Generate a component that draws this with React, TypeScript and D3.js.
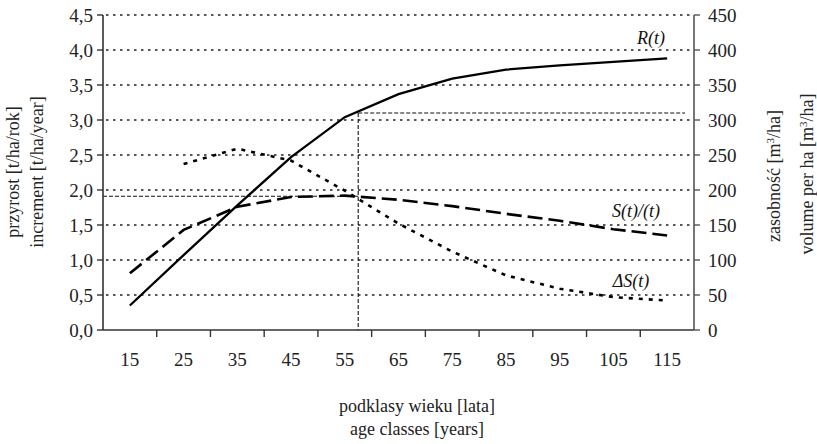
import React from 'react';
import * as d3 from 'd3';

// age classes (centre of each class) [years]
const ageClasses = [15, 25, 35, 45, 55, 65, 75, 85, 95, 105, 115];
// R(t) – volume per ha [m3/ha], right axis
const volumeR = [35, 107, 178, 247, 304, 337, 359, 372, 378, 383, 388];
// S(t)/(t) – mean increment [t/ha/year], left axis
const meanIncrement = [0.81, 1.43, 1.76, 1.9, 1.92, 1.86, 1.77, 1.66, 1.56, 1.44, 1.35];
// ΔS(t) – current increment [t/ha/year], left axis (no value for the first class)
const currentIncrement = [null, 2.37, 2.59, 2.42, 1.99, 1.52, 1.12, 0.78, 0.59, 0.47, 0.42];

const leftTicks = [0, 0.5, 1, 1.5, 2, 2.5, 3, 3.5, 4, 4.5];
const rightTicks = [0, 50, 100, 150, 200, 250, 300, 350, 400, 450];
const classBounds = [20, 30, 40, 50, 60, 70, 80, 90, 100, 110];

// culmination of mean increment and the matching volume
const optimumAge = 57.5;
const optimumIncrement = 1.91;
const optimumVolume = 310;

const W = 817;
const H = 444;
const margin = { top: 15, right: 123, bottom: 114, left: 103 };
const FONT = "'Liberation Serif', 'DejaVu Serif', serif";

const App = () => {
  const x = d3.scaleLinear().domain([10, 120]).range([margin.left, W - margin.right]);
  const yL = d3.scaleLinear().domain([0, 4.5]).range([H - margin.bottom, margin.top]);
  const yR = d3.scaleLinear().domain([0, 450]).range([H - margin.bottom, margin.top]);
  const x0 = margin.left;
  const x1 = W - margin.right;
  const yBase = H - margin.bottom;

  const lineR = d3.line<number>()
    .x((d, i) => x(ageClasses[i]))
    .y(d => yR(d));
  const lineL = d3.line<number | null>()
    .defined(d => d !== null)
    .x((d, i) => x(ageClasses[i]))
    .y(d => yL(d as number));

  const fmt = (v: number) => v.toFixed(1).replace('.', ',');

  return (
    <div style={{ position: 'absolute', left: 0, top: 0 }}>
      <svg width={W} height={H} style={{ display: 'block', background: '#fff', fontFamily: FONT }}>
        {/* dotted gridlines */}
        {leftTicks.filter(t => t > 0).map(t => (
          <line key={'g' + t} x1={x0 + 3} x2={x1} y1={yL(t)} y2={yL(t)}
            stroke="#222" strokeWidth={1.3} strokeDasharray="2.5,4.5" />
        ))}

        {/* reference lines at culmination */}
        <line x1={x0} x2={x(optimumAge)} y1={yL(optimumIncrement)} y2={yL(optimumIncrement)}
          stroke="#111" strokeWidth={1.1} strokeDasharray="4,2" />
        <line x1={x(optimumAge)} x2={x1 - 9} y1={yR(optimumVolume)} y2={yR(optimumVolume)}
          stroke="#111" strokeWidth={1.1} strokeDasharray="4,2" />
        <line x1={x(optimumAge)} x2={x(optimumAge)} y1={yR(optimumVolume)} y2={yBase}
          stroke="#111" strokeWidth={1.1} strokeDasharray="4,2" />

        {/* series */}
        <path d={lineR(volumeR) || ''} fill="none" stroke="#000" strokeWidth={2.3} />
        <path d={lineL(meanIncrement) || ''} fill="none" stroke="#000" strokeWidth={2.6}
          strokeDasharray="15,6" />
        <path d={lineL(currentIncrement) || ''} fill="none" stroke="#000" strokeWidth={2.6}
          strokeDasharray="4,6" />

        {/* axes */}
        <line x1={x0} x2={x0} y1={margin.top} y2={yBase} stroke="#333" strokeWidth={1.6} />
        <line x1={x1} x2={x1} y1={margin.top} y2={yBase} stroke="#555" strokeWidth={1.6} />
        <line x1={x0} x2={x1} y1={yBase} y2={yBase} stroke="#333" strokeWidth={1.6} />

        {leftTicks.map(t => (
          <g key={'l' + t}>
            <line x1={x0 - 6} x2={x0} y1={yL(t)} y2={yL(t)} stroke="#333" strokeWidth={1.4} />
            <text x={x0 - 10} y={yL(t)} dy="0.35em" textAnchor="end" fontSize={19} fill="#222">{fmt(t)}</text>
          </g>
        ))}
        {rightTicks.map(t => (
          <g key={'r' + t}>
            <line x1={x1} x2={x1 + 6} y1={yR(t)} y2={yR(t)} stroke="#555" strokeWidth={1.4} />
            <text x={x1 + 14} y={yR(t)} dy="0.35em" textAnchor="start" fontSize={19} fill="#222">{t}</text>
          </g>
        ))}
        {classBounds.map(b => (
          <line key={'b' + b} x1={x(b)} x2={x(b)} y1={yBase} y2={yBase + 7} stroke="#333" strokeWidth={1.4} />
        ))}
        {ageClasses.map(a => (
          <text key={'a' + a} x={x(a)} y={366} textAnchor="middle" fontSize={19} fill="#222">{a}</text>
        ))}

        {/* series labels */}
        <text x={651} y={44} textAnchor="middle" fontSize={18} fontStyle="italic" fill="#111">R(t)</text>
        <text x={636} y={217} textAnchor="middle" fontSize={18} fontStyle="italic" fill="#111">S(t)/(t)</text>
        <text x={631} y={287} textAnchor="middle" fontSize={18} fontStyle="italic" fill="#111">ΔS(t)</text>

        {/* axis titles */}
        <text x={417} y={412} textAnchor="middle" fontSize={18} fill="#222">podklasy wieku [lata]</text>
        <text x={417} y={435} textAnchor="middle" fontSize={18} fill="#222">age classes [years]</text>

        <text transform="translate(19,172) rotate(-90)" textAnchor="middle" fontSize={18} fill="#222">przyrost [t/ha/rok]</text>
        <text transform="translate(43,172) rotate(-90)" textAnchor="middle" fontSize={18} fill="#222">increment [t/ha/year]</text>

        <text transform="translate(780,176) rotate(-90)" textAnchor="middle" fontSize={18} fill="#222">
          zasobność [m<tspan dy="-6" fontSize={11}>3</tspan><tspan dy="6">/ha]</tspan>
        </text>
        <text transform="translate(813,174) rotate(-90)" textAnchor="middle" fontSize={18} fill="#222">
          volume per ha [m<tspan dy="-6" fontSize={11}>3</tspan><tspan dy="6">/ha]</tspan>
        </text>
      </svg>
    </div>
  );
};

export default App;
